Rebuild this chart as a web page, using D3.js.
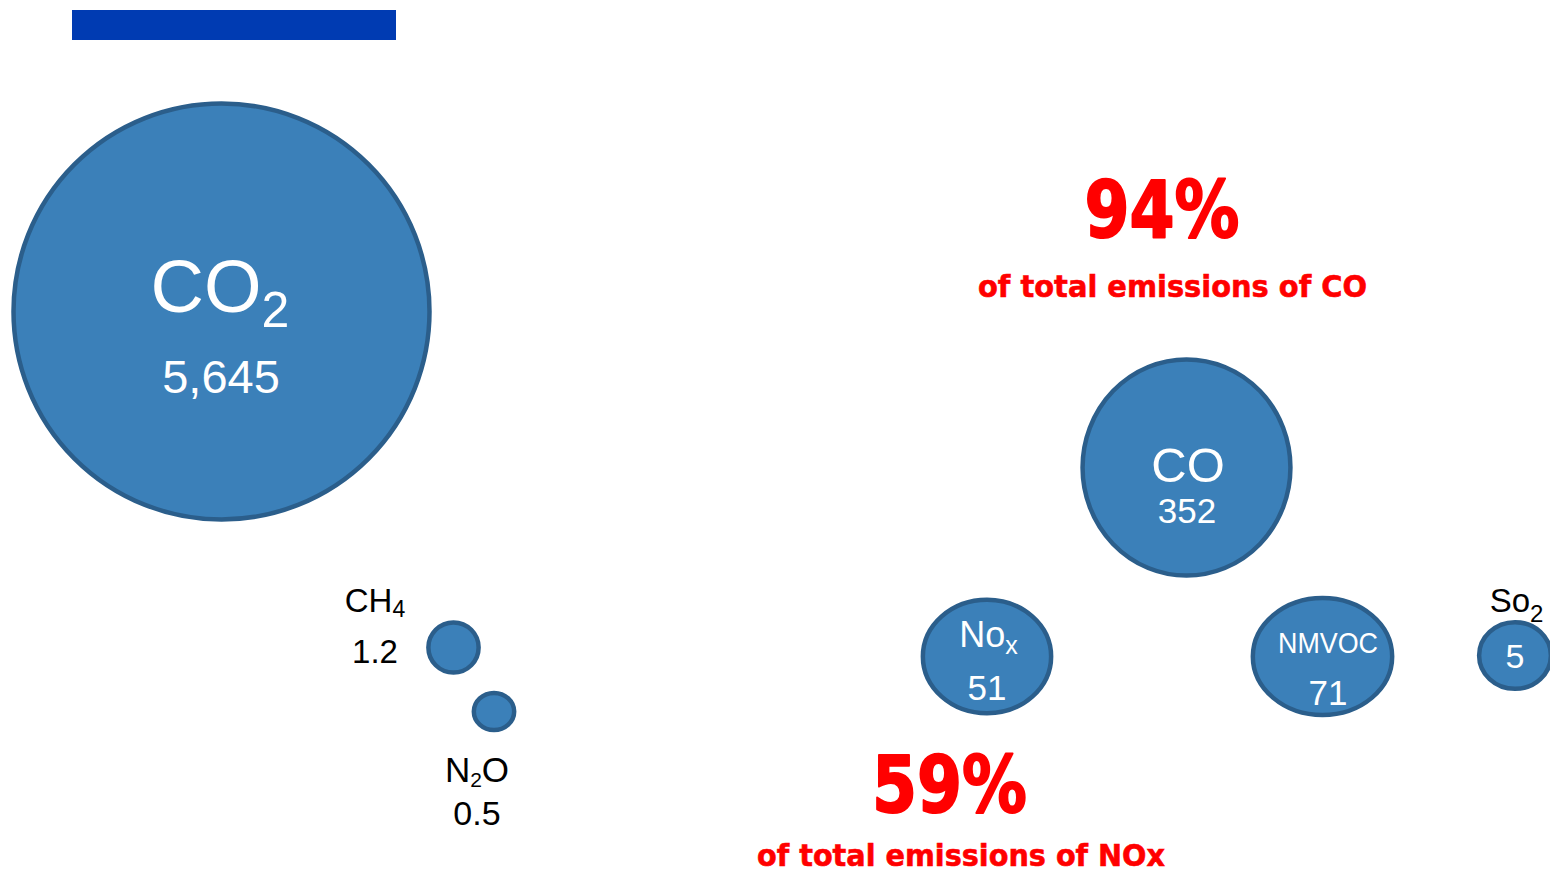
<!DOCTYPE html>
<html>
<head>
<meta charset="utf-8">
<script src="https://cdn.jsdelivr.net/npm/d3@7"></script>
<style>
  html, body { margin: 0; padding: 0; background: #fff; }
  svg { display: block; }
</style>
</head>
<body>
<svg id="chart" width="1550" height="872"></svg>
<script>
// ---------- data ----------
const gases = ["CO2", "CH4", "N2O", "CO", "NOx", "NMVOC", "SO2"];
const values = [5645, 1.2, 0.5, 352, 51, 71, 5];
const valueLabels = ["5,645", "1.2", "0.5", "352", "51", "71", "5"];
// label segments: [text, isSubscript]
const nameParts = [
  [["CO", 0], ["2", 1]],
  [["CH", 0], ["4", 1]],
  [["N", 0], ["2", 1], ["O", 0]],
  [["CO", 0]],
  [["No", 0], ["x", 1]],
  [["NMVOC", 0]],
  [["So", 0], ["2", 1]]
];
const calloutPercents = ["94%", "59%"];
const calloutTexts = ["of total emissions of CO", "of total emissions of NOx"];

// ---------- layout (positions / styles) ----------
const layout = {
  CO2:   { cx: 221.5, cy: 311.5, aspect: 1.00, nameX: 220, nameY: 312, nameSize: 74, subSize: 50, subDy: 15, valX: 221, valY: 393, valSize: 47, inside: true },
  CH4:   { cx: 453.5, cy: 647.5, aspect: 1.00, nameX: 375, nameY: 612, nameSize: 33, subSize: 23, subDy: 5,  valX: 375, valY: 663, valSize: 33, inside: false },
  N2O:   { cx: 494,   cy: 711.5, aspect: 0.92, nameX: 477, nameY: 782, nameSize: 35, subSize: 21, subDy: 5, valX: 477, valY: 825, valSize: 34, inside: false },
  CO:    { cx: 1186.5, cy: 467.5, aspect: 1.04, nameX: 1188, nameY: 482, nameSize: 49, subSize: 30, subDy: 8, valX: 1187, valY: 523, valSize: 35, inside: true },
  NOx:   { cx: 987,   cy: 656.5, aspect: 0.885, nameX: 988.5, nameY: 647, nameSize: 36, subSize: 25, subDy: 7, valX: 987, valY: 700, valSize: 35, inside: true },
  NMVOC: { cx: 1322.5, cy: 656.5, aspect: 0.84, nameX: 1328, nameY: 653, nameSize: 29, subSize: 20, subDy: 6, valX: 1328, valY: 705, valSize: 35, inside: true, nameLen: 100 },
  SO2:   { cx: 1515,  cy: 655.5, aspect: 0.93, nameX: 1516.5, nameY: 612, nameSize: 33, subSize: 24, subDy: 10, valX: 1515, valY: 668, valSize: 34, inside: false, valInside: true }
};
const callLayout = [
  { x: 1162, pctY: 237, pctLen: 155, textX: 1172.5, textY: 297, textLen: 389 },
  { x: 949.5, pctY: 812, pctLen: 155, textX: 961, textY: 866, textLen: 408 }
];
const fillColor = "#3B80B9";
const strokeColor = "#2B5E8B";
const strokeW = 4.5;
const red = "#FF0000";
const baseFont = "'Liberation Sans', Arial, sans-serif";
const redFont = "'DejaVu Sans', sans-serif";

const svg = d3.select("#chart");

// header bar
svg.append("rect").attr("x", 72).attr("y", 10).attr("width", 324).attr("height", 30).attr("fill", "#003BB2");

// radius scale (fourth-root)
const rScale = d3.scalePow().exponent(0.25).domain([0, d3.max(values)]).range([0, 208]);

const data = gases.map((g, i) => ({ key: g, value: values[i], label: valueLabels[i], parts: nameParts[i], L: layout[g] }));

svg.append("g").selectAll("ellipse").data(data).join("ellipse")
  .attr("cx", d => d.L.cx)
  .attr("cy", d => d.L.cy)
  .attr("rx", d => rScale(d.value))
  .attr("ry", d => rScale(d.value) * d.L.aspect)
  .attr("fill", fillColor)
  .attr("stroke", strokeColor)
  .attr("stroke-width", strokeW);

// names
svg.append("g").selectAll("text").data(data).join("text")
  .attr("x", d => d.L.nameX)
  .attr("y", d => d.L.nameY)
  .attr("text-anchor", "middle")
  .attr("font-family", baseFont)
  .attr("fill", d => d.L.inside ? "#fff" : "#000")
  .attr("font-size", d => d.L.nameSize)
  .each(function(d) {
    const t = d3.select(this);
    if (d.L.nameLen) t.attr("textLength", d.L.nameLen).attr("lengthAdjust", "spacingAndGlyphs");
    let sub = false;
    d.parts.forEach(([txt, isSub]) => {
      const ts = t.append("tspan").text(txt);
      if (isSub && !sub) { ts.attr("dy", d.L.subDy).attr("font-size", d.L.subSize); sub = true; }
      else if (!isSub && sub) { ts.attr("dy", -d.L.subDy).attr("font-size", d.L.nameSize); sub = false; }
      else if (isSub) ts.attr("font-size", d.L.subSize);
    });
  });

// values
svg.append("g").selectAll("text").data(data).join("text")
  .attr("x", d => d.L.valX)
  .attr("y", d => d.L.valY)
  .attr("text-anchor", "middle")
  .attr("font-family", baseFont)
  .attr("font-size", d => d.L.valSize)
  .attr("fill", d => (d.L.inside || d.L.valInside) ? "#fff" : "#000")
  .text(d => d.label);

// callouts
const calls = calloutPercents.map((p, i) => ({ pct: p, text: calloutTexts[i], L: callLayout[i] }));
const cg = svg.append("g").selectAll("g").data(calls).join("g");
cg.append("text")
  .attr("x", d => d.L.x).attr("y", d => d.L.pctY)
  .attr("text-anchor", "middle")
  .attr("font-family", redFont).attr("font-weight", 700)
  .attr("font-size", 78).attr("fill", red)
  .attr("stroke", red).attr("stroke-width", 2).attr("stroke-linejoin", "round")
  .attr("textLength", d => d.L.pctLen).attr("lengthAdjust", "spacingAndGlyphs")
  .text(d => d.pct);
cg.append("text")
  .attr("x", d => d.L.textX).attr("y", d => d.L.textY)
  .attr("text-anchor", "middle")
  .attr("font-family", redFont).attr("font-weight", 700)
  .attr("font-size", 31).attr("fill", red)
  .attr("stroke", red).attr("stroke-width", 0.6)
  .attr("textLength", d => d.L.textLen).attr("lengthAdjust", "spacingAndGlyphs")
  .text(d => d.text);
</script>
</body>
</html>
